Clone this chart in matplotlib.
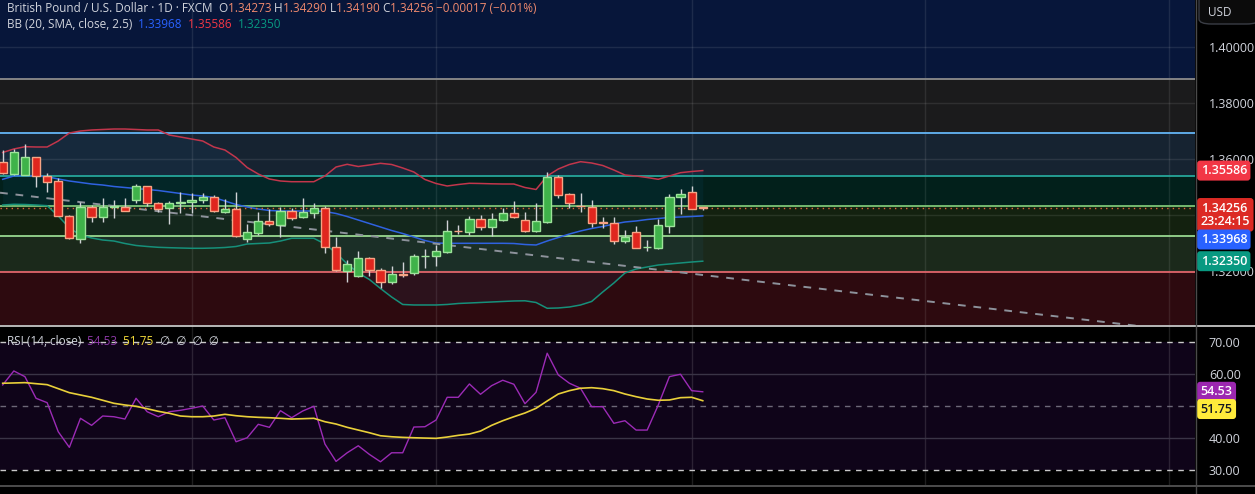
import numpy as np
import matplotlib.pyplot as plt
from matplotlib.patches import FancyBboxPatch

plt.rcParams['font.family'] = ['Open Sans', 'DejaVu Sans']

# daily candles (last one is the live bar)
opens = [1.3588, 1.3546, 1.3544, 1.3606, 1.3538, 1.3520, 1.3398, 1.3313, 1.3430, 1.3392,
         1.3430, 1.3427, 1.3454, 1.3504, 1.3442, 1.3424, 1.3442, 1.3445, 1.3453, 1.3463,
         1.3412, 1.3421, 1.3313, 1.3337, 1.3379, 1.3365, 1.3413, 1.3392, 1.3408, 1.3424,
         1.3285, 1.3200, 1.3183, 1.3245, 1.3204, 1.3162, 1.3189, 1.3192, 1.3254, 1.3255,
         1.3269, 1.3343, 1.3338, 1.3385, 1.3356, 1.3382, 1.3406, 1.3381, 1.3344, 1.3375,
         1.3535, 1.3475, 1.3433, 1.3427, 1.3374, 1.3370, 1.3308, 1.3338, 1.3284, 1.3281,
         1.3362, 1.3463, 1.3483, 1.34273]
highs = [1.3632, 1.3635, 1.3654, 1.3607, 1.3551, 1.3533, 1.3400, 1.3446, 1.3435, 1.3460,
         1.3454, 1.3460, 1.3510, 1.3505, 1.3448, 1.3450, 1.3483, 1.3478, 1.3480, 1.3471,
         1.3458, 1.3481, 1.3368, 1.3412, 1.3420, 1.3430, 1.3424, 1.3460, 1.3444, 1.3433,
         1.3320, 1.3239, 1.3272, 1.3249, 1.3210, 1.3218, 1.3233, 1.3261, 1.3277, 1.3293,
         1.3382, 1.3364, 1.3396, 1.3400, 1.3408, 1.3426, 1.3450, 1.3412, 1.3444, 1.3555,
         1.3543, 1.3478, 1.3478, 1.3454, 1.3392, 1.3392, 1.3346, 1.3361, 1.3311, 1.3385,
         1.3475, 1.3492, 1.3504, 1.34290]
lows = [1.3548, 1.3543, 1.3543, 1.3501, 1.3483, 1.3397, 1.3316, 1.3301, 1.3375, 1.3375,
        1.3390, 1.3413, 1.3444, 1.3432, 1.3412, 1.3367, 1.3408, 1.3406, 1.3444, 1.3412,
        1.3407, 1.3323, 1.3305, 1.3329, 1.3361, 1.3323, 1.3382, 1.3390, 1.3390, 1.3263,
        1.3200, 1.3162, 1.3180, 1.3182, 1.3140, 1.3152, 1.3180, 1.3186, 1.3210, 1.3218,
        1.3266, 1.3332, 1.3329, 1.3346, 1.3325, 1.3380, 1.3390, 1.3340, 1.3340, 1.3370,
        1.3460, 1.3426, 1.3412, 1.3358, 1.3352, 1.3296, 1.3301, 1.3281, 1.3273, 1.3279,
        1.3335, 1.3402, 1.3420, 1.34190]
closes = [1.3549, 1.3624, 1.3606, 1.3538, 1.3519, 1.3398, 1.3317, 1.3430, 1.3392, 1.3430,
          1.3431, 1.3415, 1.3504, 1.3442, 1.3423, 1.3442, 1.3446, 1.3454, 1.3463, 1.3413,
          1.3421, 1.3325, 1.3338, 1.3378, 1.3367, 1.3414, 1.3390, 1.3411, 1.3424, 1.3285,
          1.3202, 1.3224, 1.3245, 1.3202, 1.3162, 1.3188, 1.3187, 1.3254, 1.3255, 1.3271,
          1.3343, 1.3342, 1.3385, 1.3356, 1.3385, 1.3406, 1.3394, 1.3344, 1.3379, 1.3535,
          1.3473, 1.3444, 1.3431, 1.3373, 1.3373, 1.3308, 1.3323, 1.3283, 1.3285, 1.3364,
          1.3463, 1.3475, 1.3423, 1.34256]

# Bollinger bands (20, SMA, 2.5) as drawn
bb_upper = [1.36232, 1.36357, 1.36439, 1.36429, 1.36429, 1.36643, 1.36929, 1.37000, 1.37036, 1.37054,
            1.37071, 1.37071, 1.37054, 1.37036, 1.37036, 1.36857, 1.36786, 1.36714, 1.36643, 1.36429,
            1.36321, 1.36054, 1.35696, 1.35464, 1.35286, 1.35214, 1.35189, 1.35189, 1.35189, 1.35393,
            1.35714, 1.35811, 1.35732, 1.35786, 1.35846, 1.35804, 1.35679, 1.35536, 1.35268, 1.35125,
            1.35036, 1.35089, 1.35132, 1.35125, 1.35114, 1.35107, 1.35107, 1.34982, 1.34911, 1.35393,
            1.35643, 1.35804, 1.35904, 1.35857, 1.35768, 1.35607, 1.35429, 1.35393, 1.35339, 1.35275,
            1.35393, 1.35511, 1.35554, 1.35586]
bb_basis = [1.35275, 1.35393, 1.35411, 1.35393, 1.35368, 1.35286, 1.35214, 1.35161, 1.35107, 1.35071,
            1.35018, 1.34982, 1.34946, 1.34911, 1.34875, 1.34821, 1.34768, 1.34714, 1.34679, 1.34625,
            1.34500, 1.34375, 1.34286, 1.34214, 1.34161, 1.34143, 1.34143, 1.34143, 1.34143, 1.34125,
            1.34054, 1.33946, 1.33821, 1.33696, 1.33571, 1.33446, 1.33339, 1.33214, 1.33089, 1.33000,
            1.32989, 1.32989, 1.32989, 1.32989, 1.32989, 1.32989, 1.32982, 1.32946, 1.32929, 1.33071,
            1.33196, 1.33321, 1.33429, 1.33518, 1.33589, 1.33679, 1.33750, 1.33786, 1.33839, 1.33875,
            1.33911, 1.33929, 1.33946, 1.33968]
bb_lower = [1.34357, 1.34382, 1.34375, 1.34357, 1.34332, 1.33964, 1.33536, 1.33286, 1.33179, 1.33107,
            1.33071, 1.32982, 1.32911, 1.32875, 1.32846, 1.32832, 1.32821, 1.32811, 1.32811, 1.32821,
            1.32839, 1.32875, 1.32964, 1.32982, 1.33000, 1.33071, 1.33168, 1.33168, 1.33168, 1.32964,
            1.32643, 1.32250, 1.31929, 1.31696, 1.31375, 1.31071, 1.30804, 1.30786, 1.30786, 1.30786,
            1.30804, 1.30839, 1.30857, 1.30875, 1.30893, 1.30911, 1.30929, 1.30936, 1.30875, 1.30668,
            1.30679, 1.30714, 1.30786, 1.30911, 1.31250, 1.31571, 1.31929, 1.32071, 1.32143, 1.32214,
            1.32250, 1.32286, 1.32321, 1.32350]

# RSI(14) and its moving average
rsi = [56.66, 61.03, 59.25, 52.50, 51.13, 42.06, 37.19, 46.25, 44.06, 46.97,
       46.75, 46.03, 52.50, 48.31, 46.75, 48.31, 48.75, 49.38, 50.09, 45.72,
       46.44, 38.94, 40.19, 44.38, 43.44, 48.63, 46.44, 48.53, 50.00, 38.22,
       32.81, 35.50, 37.69, 35.00, 32.69, 35.50, 35.50, 43.53, 43.63, 45.72,
       52.81, 52.81, 56.97, 53.75, 56.44, 58.13, 56.88, 50.81, 54.38, 66.56,
       59.78, 57.19, 55.63, 49.88, 49.88, 44.69, 45.50, 42.59, 42.59, 50.41,
       59.25, 60.00, 54.88, 54.53]
rsi_ma = [57.19, 57.28, 57.38, 57.06, 56.75, 55.50, 54.25, 53.53, 52.81, 51.88,
          50.94, 50.41, 50.00, 49.25, 48.44, 47.81, 46.97, 46.75, 46.75, 46.97,
          47.50, 47.06, 46.75, 46.56, 46.44, 46.25, 46.03, 46.13, 46.25, 45.19,
          44.47, 43.44, 42.59, 41.75, 40.81, 40.50, 40.31, 40.19, 40.09, 40.00,
          40.41, 40.94, 41.34, 42.28, 44.06, 45.50, 46.75, 47.91, 49.38, 51.66,
          53.84, 54.88, 55.63, 55.81, 55.50, 54.88, 53.84, 53.00, 52.28, 51.88,
          51.97, 52.69, 52.81, 51.75]

# drawn objects: horizontal zone levels and a descending trend line
zone_levels = [1.38846, 1.36929, 1.35382, 1.34321, 1.33250, 1.31954]
zone_lines = ['#8c8c8c', '#64b5f6', '#26a69a', '#7cc476', '#98d890', '#e0646a']
zone_fills = ['#07163a', '#1b1b1c', '#162331', '#02201b', '#13210f', '#1b291b', '#2d0a0f']
trend_idx = [-0.24, 107.3]
trend_px = [1.34796, 1.29799]

price_grid = [1.32, 1.34, 1.36, 1.38, 1.40]
price_ticks = [1.32, 1.36, 1.38, 1.40]   # 1.34000 sits fully under the live-price tag
rsi_ticks = [30, 40, 60, 70]             # 50.00 sits fully under the RSI tags
month_idx = [17, 39, 62, 83, 105]

W, H = 1255, 494
fig = plt.figure(figsize=(W / 100, H / 100), dpi=100, facecolor='black')
ax = fig.add_axes([0, 1 - 325 / H, 1195 / W, 325 / H])
ax2 = fig.add_axes([0, 1 - 485 / H, 1195 / W, 159 / H])

x = np.arange(len(closes))
o = np.array(opens); c = np.array(closes)
hi = np.array(highs); lo = np.array(lows)

ymin, ymax = 1.30071, 1.41679
ax.set_xlim(-0.243, 107.3)
ax.set_ylim(ymin, ymax)
ax.set_facecolor('black')

# zones
edges = [ymax + 1] + zone_levels + [ymin - 1]
for k, col in enumerate(zone_fills):
    ax.axhspan(edges[k + 1], edges[k], color=col, zorder=0, lw=0)
for lvl, col in zip(zone_levels, zone_lines):
    ax.axhline(lvl, color=col, lw=1.3, zorder=2)

# grid
for t in price_grid:
    ax.axhline(t, color='white', alpha=0.09, lw=1, zorder=1)
for m in month_idx:
    ax.axvline(m, color='white', alpha=0.09, lw=1, zorder=1)
    ax2.axvline(m, color='white', alpha=0.12, lw=1, zorder=1)

# bollinger
ax.fill_between(x, bb_lower, bb_upper, color='#2196f3', alpha=0.06, lw=0, zorder=1.5)
ax.plot(x, bb_upper, color='#c2364c', lw=1.1, zorder=3)
ax.plot(x, bb_basis, color='#2f62e0', lw=1.1, zorder=3)
ax.plot(x, bb_lower, color='#16907a', lw=1.1, zorder=3)

ax.plot(trend_idx, trend_px, color='#8d929b', lw=1.4, dashes=(4, 4), zorder=3)

# candles
up = c >= o
body_fill = np.where(up, '#3fb24a', '#e0261e')
body_edge = np.where(up, '#9de39a', '#f7a384')
ax.vlines(x, lo, hi, color='#d0d2d6', lw=1, zorder=4)
bottom = np.minimum(o, c)
height = np.maximum(np.abs(c - o), 0.00003)
ax.bar(x, height, width=0.74, bottom=bottom, color=body_fill,
       edgecolor=body_edge, linewidth=1, zorder=5)

# live price line
ax.axhline(closes[-1], color='#e0673f', lw=1, ls=(0, (1, 3)), zorder=3.5)

ax.set_xticks([])
ax.yaxis.tick_right()
ax.set_yticks(price_ticks)
ax.set_yticklabels([f'{t:.5f}' for t in price_ticks])
ax.tick_params(axis='y', length=0, pad=10, labelsize=9, labelcolor='#d1d4dc')
for s in ax.spines.values():
    s.set_visible(False)

# RSI pane
ax2.set_xlim(-0.243, 107.3)
ax2.set_ylim(25.45, 75.05)
ax2.set_facecolor('black')
ax2.axhspan(30, 70, color='#0f0419', zorder=0, lw=0)
for lvl in (40, 60):
    ax2.axhline(lvl, color='#3a3446', lw=1, zorder=1)
ax2.axhline(50, color='#6d6878', lw=1, dashes=(4, 4), zorder=1)
for lvl in (30, 70):
    ax2.axhline(lvl, color='#c9c9c9', lw=1, dashes=(4, 4), zorder=1)
ax2.plot(x, rsi, color='#9c2bb6', lw=1, zorder=3)
ax2.plot(x, rsi_ma, color='#e9d03a', lw=1.2, zorder=3)
ax2.set_xticks([])
ax2.yaxis.tick_right()
ax2.set_yticks(rsi_ticks)
ax2.set_yticklabels([f'{t:.2f}' for t in rsi_ticks])
ax2.tick_params(axis='y', length=0, pad=10, labelsize=9, labelcolor='#d1d4dc')
for s in ax2.spines.values():
    s.set_visible(False)


def axis_label(a, value, text, fc, tc='white', dy=0):
    a.annotate(text, xy=(1, value), xycoords=('axes fraction', 'data'),
               xytext=(4, dy), textcoords='offset points', ha='left', va='center',
               fontsize=9, color=tc, fontweight='semibold', annotation_clip=False,
               linespacing=1.05, zorder=10,
               bbox=dict(boxstyle='round,pad=0.28,rounding_size=0.25', fc=fc, ec='none'))


axis_label(ax, bb_upper[-1], f'{bb_upper[-1]:.5f}', '#f23645')
axis_label(ax, closes[-1], f'{closes[-1]:.5f}\n23:24:15', '#dc2a24', dy=-5)
axis_label(ax, bb_basis[-1], f'{bb_basis[-1]:.5f}', '#2962ff', dy=-17)
axis_label(ax, bb_lower[-1], f'{bb_lower[-1]:.5f}', '#089981')
axis_label(ax2, rsi[-1], f'{rsi[-1]:.2f}', '#9c27b0')
axis_label(ax2, rsi_ma[-1], f'{rsi_ma[-1]:.2f}', '#ffeb3b', tc='#131722', dy=-6)

# pane separators
fig.add_artist(plt.Line2D([0, 1], [1 - 325.5 / H] * 2, color='#d8d8d8', lw=1.2))
fig.add_artist(plt.Line2D([0, 1], [1 - 485.5 / H] * 2, color='#5a5a5a', lw=1.2))
fig.add_artist(plt.Line2D([1195.5 / W] * 2, [0, 1], color='#4a4a4a', lw=1))

# USD box
fig.add_artist(FancyBboxPatch((1199 / W, 1 - 24 / H), 60 / W, 30 / H,
                              boxstyle='round,pad=0,rounding_size=0.01',
                              fc='#0b0b0b', ec='#3a3d45', lw=1, transform=fig.transFigure))
fig.text(1208 / W, 1 - 12 / H, 'USD', color='#d1d4dc', fontsize=8.5, va='center')

# header legends
renderer = fig.canvas.get_renderer()


def write_parts(x_px, y_px, parts, size=8.5):
    xp = x_px
    for s, col in parts:
        t = fig.text(xp / W, 1 - y_px / H, s, color=col, fontsize=size, va='center', ha='left')
        xp += t.get_window_extent(renderer).width


GR = '#d1d4dc'
SAL = '#f08a6e'
write_parts(7, 8, [('British Pound / U.S. Dollar · 1D · FXCM  ', GR),
                   ('O', GR), (f'{opens[-1]:.5f} ', SAL), ('H', GR), (f'{highs[-1]:.5f} ', SAL),
                   ('L', GR), (f'{lows[-1]:.5f} ', SAL), ('C', GR), (f'{closes[-1]:.5f} ', SAL),
                   ('−0.00017 (−0.01%)', SAL)])
write_parts(7, 24, [('BB (20, SMA, close, 2.5)  ', GR), (f'{bb_basis[-1]:.5f}  ', '#2962ff'),
                    (f'{bb_upper[-1]:.5f}  ', '#f23645'), (f'{bb_lower[-1]:.5f}', '#089981')])
write_parts(7, 341, [('RSI (14, close)  ', GR), (f'{rsi[-1]:.2f}  ', '#8e3aa8'),
                     (f'{rsi_ma[-1]:.2f}  ', '#f2da3a'), ('∅  ∅  ∅  ∅', GR)])

fig.savefig('out.png', dpi=100, facecolor='black')
